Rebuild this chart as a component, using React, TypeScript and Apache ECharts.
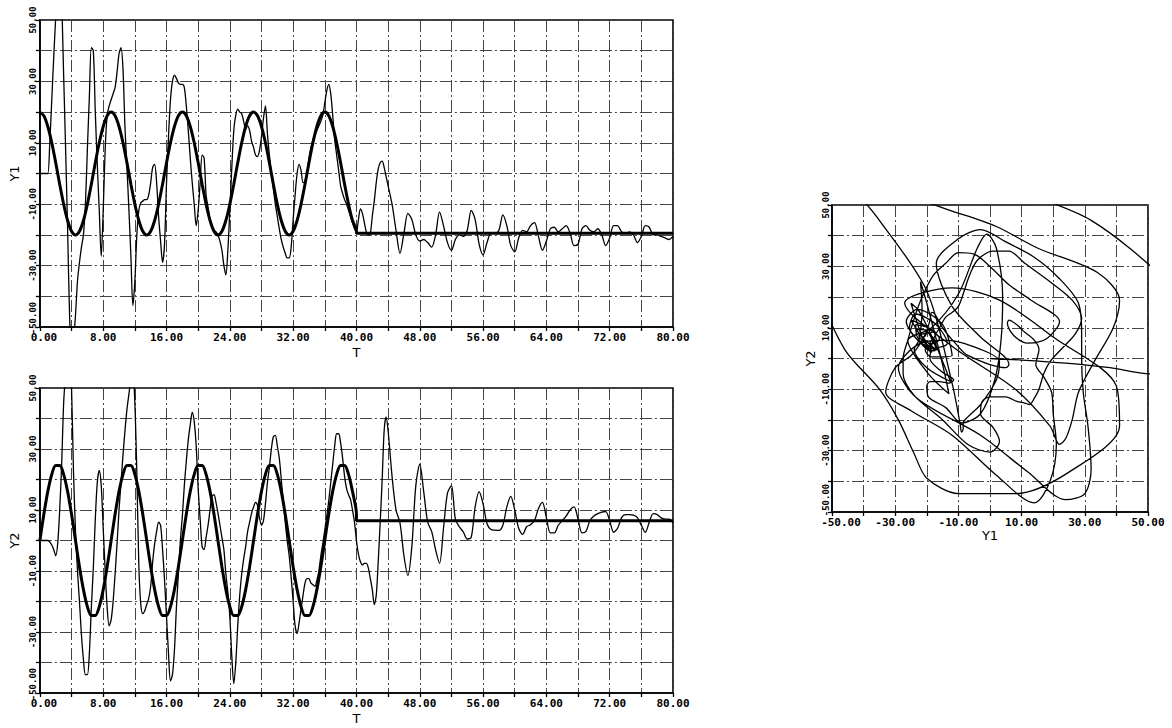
import React, { useEffect, useRef } from 'react';
import * as echarts from 'echarts';

// Sampling of the response curves (thin lines)
const T_EARLY_START = 0;
const T_EARLY_STEP = 0.25;
const T_LATE_START = 44;
const T_LATE_STEP = 0.5;

// Y1 response, t = 0 .. 43.75 (step 0.25)
const Y1_EARLY = [
  0, 0, 0, 0,
  0, 10, 24, 38,
  51, 62, 66, 56,
  32, 8, -18, -46,
  -58, -54, -46, -35,
  -29, -24, -20, -10,
  8, 25, 41, 40,
  20, 3, -12, -27,
  -12, 8, 19, 22,
  24, 26, 28, 33,
  39, 41, 34, 15,
  2, -12, -27, -43,
  -35, -20, -12, -9.5,
  -9, -8.5, -8.5, -7,
  -3, 2, 3, -3,
  -14, -22, -29, -23,
  -3, 12, 24, 30,
  32, 31, 29.5, 29,
  29, 28, 22, 14,
  5, -3, -10, -17,
  -12, -3, 6, 5,
  -7, -11, -15, -17.5,
  -18.5, -19, -20, -22,
  -25, -30, -33, -25,
  -12, 2, 14, 19,
  21, 20, 19.5, 17,
  14.5, 15.5, 14, 10.5,
  8.5, 6, 5.5, 7.5,
  12, 18, 22, 13,
  6, 0, -5, -10,
  -14, -18, -21.5, -24,
  -26, -27.5, -27.5, -24,
  -15, -7, 0, 3,
  1, -3, -2.5, 0,
  5, 8.5, 11, 12.5,
  14, 15.5, 17, 19,
  23, 27, 29, 26,
  19, 11, 6, 1,
  -4, -6.5, -8.5, -10,
  -12, -14, -16, -18,
  -19, -15, -11.5, -13,
  -16, -19, -20, -19.5,
  -14, -9, -3, 1.5,
  3.5, 4, 2, -1,
];

// Y1 response, t = 44 .. 80 (step 0.5)
const Y1_LATE = [
  -4, -10, -18.5, -26, -19.5, -13, -15, -20,
  -22, -21.5, -22.5, -24, -20, -12.5, -17, -22.5,
  -25, -21.5, -20, -20.5, -18.5, -12, -15, -23,
  -26.5, -22.5, -19.5, -19.5, -18.5, -13.5, -17, -23.5,
  -25.5, -21, -18.5, -19, -17, -16, -20.5, -25,
  -22, -18, -17.5, -19, -18, -17, -19.5, -23.5,
  -23, -18, -17, -18.5, -19, -18, -20, -23.5,
  -21, -17, -17, -19, -19.5, -19, -20, -22.5,
  -20.5, -17, -17.5, -20, -20, -20.5, -21, -21.5,
  -20.5,
];

// Y2 response, t = 0 .. 43.75 (step 0.25)
const Y2_EARLY = [
  0, 0, 0, 0,
  0, -0.5, -1.5, -3,
  -5, -1, 10, 25,
  45, 55, 65, 65,
  50, 22, 3, -10,
  -20, -31, -39, -44,
  -44, -37, -22, -9,
  7, 19, 23, 18,
  4, -10, -22, -28,
  -26, -20, -11, -1,
  10, 19, 28, 36,
  43, 48, 53, 55,
  45, 22, -8, -21,
  -24, -23, -21, -19,
  -15, -7, -1, 3,
  6, 5, -3, -13,
  -25, -37, -46, -44,
  -36, -22, -11, 0,
  8, 18, 26, 33,
  38, 42, 39, 31,
  17, 7, -2, -3,
  1, 5, 10, 14.5,
  15, 12.5, 9, 5,
  1, -3, -11, -17,
  -25, -38, -47, -40,
  -28, -18, -11, -6,
  -2, 3, 6, 9,
  11, 12.5, 11.5, 7.5,
  5, 6.5, 12, 19,
  24, 30, 34, 34.5,
  31, 27, 20, 13,
  6, 0, -5, -12,
  -20, -28, -30.5, -27,
  -22.5, -18, -14, -12.5,
  -12.5, -14, -14.5, -15,
  -13, -10, -5, -1,
  3.5, 8, 13, 19,
  25, 31, 35, 35,
  32, 27, 21, 17,
  15, 13.5, 10, 6,
  0, -4.5, -7, -8,
  -7.5, -7.5, -9, -12.5,
  -16, -21, -18, -7,
  6, 20, 36, 40.5,
];

// Y2 response, t = 44 .. 80 (step 0.5)
const Y2_LATE = [
  36, 21, 10, 5.8, -5, -11.5, -2, 18,
  25, 16, 6, 3, -3, -7.5, 4, 15.5,
  18, 7, 4.5, 2.8, 0.5, 1, 11, 16,
  12, 5.5, 3.6, 3.4, 3.3, 5, 11, 14.5,
  10, 4, 2, 4.5, 5.2, 6.5, 10.5, 12.5,
  7.5, 2.5, 2.5, 5, 6.5, 8, 10, 11,
  7, 2.5, 3, 6.5, 8, 8.8, 9.3, 9.5,
  6.5, 2.7, 4, 7.5, 8.5, 8.5, 8.3, 7.5,
  5, 2.7, 6, 8.8, 8.5, 7.4, 7, 7,
  5.7,
];

// Reference (thick) curves, t = 0 .. 40 (step 0.5), then held
const REF_STEP = 0.5;
const REF_Y1 = [
  20, 18.8, 15.3, 10, 3.5, -3.5, -10, -15.3, -18.8, -20, -18.8, -15.3, -10, -3.5, 3.5, 10, 15.3, 18.8,
  20, 18.8, 15.3, 10, 3.5, -3.5, -10, -15.3, -18.8, -20, -18.8, -15.3, -10, -3.5, 3.5, 10, 15.3, 18.8,
  20, 18.8, 15.3, 10, 3.5, -3.5, -10, -15.3, -18.8, -20, -18.8, -15.3, -10, -3.5, 3.5, 10, 15.3, 18.8,
  20, 18.8, 15.3, 10, 3.5, -3.5, -10, -15.3, -18.8, -20, -18.8, -15.3, -10, -3.5, 3.5, 10, 15.3, 18.8,
  20, 18.8, 15.3, 10, 3.5, -3.5, -10, -15.3, -18.8,
];
const REF_Y2 = [
  0, 8.6, 16.1, 21.7, 24.6, 24.6, 21.7, 16.1, 8.6, 0, -8.6, -16.1, -21.7, -24.6, -24.6, -21.7, -16.1, -8.6,
  0, 8.6, 16.1, 21.7, 24.6, 24.6, 21.7, 16.1, 8.6, 0, -8.6, -16.1, -21.7, -24.6, -24.6, -21.7, -16.1, -8.6,
  0, 8.6, 16.1, 21.7, 24.6, 24.6, 21.7, 16.1, 8.6, 0, -8.6, -16.1, -21.7, -24.6, -24.6, -21.7, -16.1, -8.6,
  0, 8.6, 16.1, 21.7, 24.6, 24.6, 21.7, 16.1, 8.6, 0, -8.6, -16.1, -21.7, -24.6, -24.6, -21.7, -16.1, -8.6,
  0, 8.6, 16.1, 21.7, 24.6, 24.6, 21.7, 16.1, 8.6,
];
const REF_Y1_HOLD = -19.5;
const REF_Y2_HOLD = 6.5;

const T_MIN = 0;
const T_MAX = 80;
const T_GRID = 4;
const T_LABEL_EVERY = 8;
const V_MIN = -50;
const V_MAX = 50;
const V_GRID = 10;
const V_LABEL_EVERY = 20;

const NAME_FONT = {
  fontFamily: 'DejaVu Sans',
  fontSize: 13,
  color: '#000',
};

function makeAxis(
  gridIndex: number,
  min: number,
  max: number,
  interval: number,
  every: number,
  name: string,
  vertical: boolean,
  nameGap: number,
  margin: number,
  minShiftPad: number,
) {
  const font = {
    fontFamily: 'DejaVu Sans Mono',
    fontWeight: 'bold' as const,
    fontSize: vertical ? 9 : 11,
    color: '#000',
  };
  return {
    type: 'value',
    gridIndex,
    min,
    max,
    interval,
    name,
    nameLocation: 'middle',
    nameGap,
    nameRotate: vertical ? 90 : 0,
    nameTextStyle: NAME_FONT,
    axisLine: { show: true, onZero: false, lineStyle: { color: '#000', width: 1.6 } },
    axisTick: { show: true, inside: false, length: 4, lineStyle: { color: '#000', width: 1.3 } },
    axisLabel: {
      ...font,
      margin,
      rotate: vertical ? 90 : 0,
      showMinLabel: true,
      showMaxLabel: true,
      hideOverlap: false,
      formatter: (v: number) => {
        const k = (v - min) / every;
        if (Math.abs(k - Math.round(k)) > 1e-6) return '';
        const s = v.toFixed(2);
        return Math.abs(v - min) < 1e-6 ? `{m|${s}}` : `{n|${s}}`;
      },
      rich: {
        n: { ...font },
        m: { ...font, padding: [0, 0, 0, minShiftPad] },
      },
    },
    splitLine: {
      show: true,
      lineStyle: { color: '#444', width: 1, type: [12, 3, 2, 3] },
    },
  };
}

export default function App() {
  const ref = useRef<HTMLDivElement>(null);

  useEffect(() => {
    if (!ref.current) return;
    const chart = echarts.init(ref.current, undefined, { renderer: 'svg' });

    const T = [
      ...Y1_EARLY.map((_, i) => T_EARLY_START + i * T_EARLY_STEP),
      ...Y1_LATE.map((_, i) => T_LATE_START + i * T_LATE_STEP),
    ];
    const Y1 = [...Y1_EARLY, ...Y1_LATE];
    const Y2 = [...Y2_EARLY, ...Y2_LATE];

    const refEnd = (REF_Y1.length - 1) * REF_STEP;
    const ref1 = REF_Y1.map((v, i) => [i * REF_STEP, v]);
    ref1.push([refEnd, REF_Y1_HOLD], [T_MAX, REF_Y1_HOLD]);
    const ref2 = REF_Y2.map((v, i) => [i * REF_STEP, v]);
    ref2.push([refEnd, REF_Y2_HOLD], [T_MAX, REF_Y2_HOLD]);

    const thin = { color: '#000', width: 1.3 };
    const thick = { color: '#000', width: 3 };

    chart.setOption({
      animation: false,
      backgroundColor: '#fff',
      grid: [
        { left: 39, top: 20, width: 634, height: 307, show: true, borderColor: '#000', borderWidth: 1.6 },
        { left: 39, top: 388, width: 634, height: 305, show: true, borderColor: '#000', borderWidth: 1.6 },
        { left: 832, top: 205, width: 316, height: 307, show: true, borderColor: '#000', borderWidth: 1.6 },
      ],
      xAxis: [
        makeAxis(0, T_MIN, T_MAX, T_GRID, T_LABEL_EVERY, 'T', false, 19, 5, 8),
        makeAxis(1, T_MIN, T_MAX, T_GRID, T_LABEL_EVERY, 'T', false, 19, 5, 8),
        makeAxis(2, V_MIN, V_MAX, V_GRID, V_LABEL_EVERY, 'Y1', false, 16, 5, 18),
      ],
      yAxis: [
        makeAxis(0, V_MIN, V_MAX, V_GRID, V_LABEL_EVERY, 'Y1', true, 15, 2, 18),
        makeAxis(1, V_MIN, V_MAX, V_GRID, V_LABEL_EVERY, 'Y2', true, 15, 2, 18),
        makeAxis(2, V_MIN, V_MAX, V_GRID, V_LABEL_EVERY, 'Y2', true, 15, 2, 24),
      ],
      series: [
        {
          type: 'line', xAxisIndex: 0, yAxisIndex: 0, showSymbol: false, clip: true, smooth: 0.3,
          lineStyle: thin, data: T.map((t, i) => [t, Y1[i]]),
        },
        {
          type: 'line', xAxisIndex: 0, yAxisIndex: 0, showSymbol: false, clip: true, smooth: 0.3,
          lineStyle: thick, data: ref1,
        },
        {
          type: 'line', xAxisIndex: 1, yAxisIndex: 1, showSymbol: false, clip: true, smooth: 0.3,
          lineStyle: thin, data: T.map((t, i) => [t, Y2[i]]),
        },
        {
          type: 'line', xAxisIndex: 1, yAxisIndex: 1, showSymbol: false, clip: true, smooth: 0.3,
          lineStyle: thick, data: ref2,
        },
        {
          type: 'line', xAxisIndex: 2, yAxisIndex: 2, showSymbol: false, clip: true, smooth: 0.3,
          lineStyle: { color: '#000', width: 1.3 }, data: Y1.map((v, i) => [v, Y2[i]]),
        },
      ],
    });

    return () => chart.dispose();
  }, []);

  return (
    <div
      ref={ref}
      style={{ position: 'fixed', left: 0, top: 0, width: 1172, height: 728, background: '#fff' }}
    />
  );
}
